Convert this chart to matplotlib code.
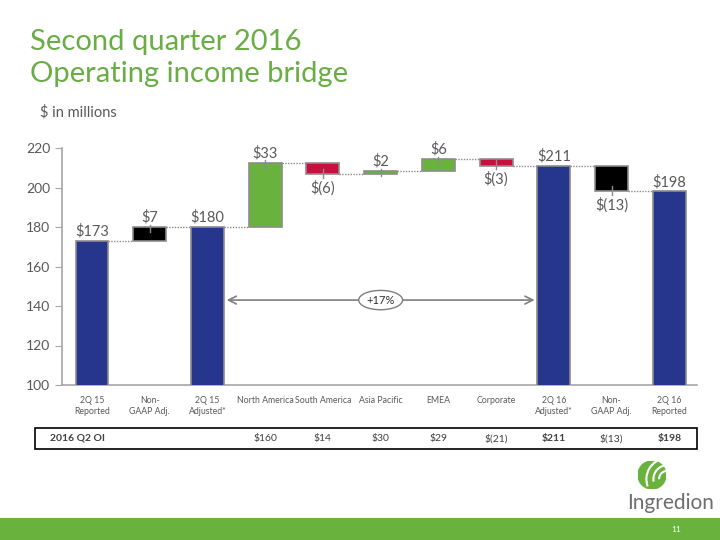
import numpy as np
import matplotlib
matplotlib.use('Agg')
import matplotlib.pyplot as plt
from matplotlib.patches import Rectangle, Circle, Arc

# data
categories = ['2Q 15\nReported', 'Non-\nGAAP Adj.', '2Q 15\nAdjusted*', 'North America',
              'South America', 'Asia Pacific', 'EMEA', 'Corporate', '2Q 16\nAdjusted*',
              'Non-\nGAAP Adj.', '2Q 16\nReported']
# 'total' bars start at 0, 'delta' bars float on the running total
kinds = ['total', 'delta', 'total', 'delta', 'delta', 'delta', 'delta', 'delta', 'total', 'delta', 'total']
values = [173, 7, 180, 32.6, -6.0, 1.6, 6.1, -3.3, 211, -13, 198]
value_labels = ['$173', '$7', '$180', '$33', '$(6)', '$2', '$6', '$(3)', '$211', '$(13)', '$198']
table_values = ['', '', '', '$160', '$14', '$30', '$29', '$(21)', '$211', '$(13)', '$198']
table_bold = [False, False, False, False, False, False, False, False, True, False, True]
growth_label = '+17%'

BLUE = '#26368C'
GREEN = '#6AB23E'
RED = '#C8103E'
GRAY = '#595959'
colors = [BLUE, 'black', BLUE, GREEN, RED, GREEN, GREEN, RED, BLUE, 'black', BLUE]

W, H = 720, 540
fig = plt.figure(figsize=(7.2, 5.4), dpi=100)
plt.rcParams['font.family'] = ['Lato', 'DejaVu Sans']

def fx(x):
    return x / W

def fy(y):
    return 1 - y / H

ax = fig.add_axes([fx(62), fy(385), fx(697) - fx(62), fy(148) - fy(385)])
x = np.arange(len(categories))
width = 0.57

bottoms, tops, ends = [], [], []
running = 0
for k, v in zip(kinds, values):
    if k == 'total':
        b, t = 0, v
        running = v
    else:
        b, t = running, running + v
        running = running + v
    bottoms.append(min(b, t))
    tops.append(max(b, t))
    ends.append(running)

heights = [t - b for b, t in zip(bottoms, tops)]
ax.bar(x, heights, width=width, bottom=bottoms, color=colors, edgecolor='#8C8C8C', linewidth=1.2, zorder=3)

# dotted connectors
for i in range(len(x) - 1):
    ax.plot([x[i] + width / 2, x[i + 1] - width / 2], [ends[i], ends[i]],
            color='#8C8C8C', linestyle=(0, (1, 1)), linewidth=1, zorder=2)

# value labels and little ticks
for i in range(len(x)):
    neg = kinds[i] == 'delta' and values[i] < 0
    if neg:
        ax.text(x[i], bottoms[i] - 3.0, value_labels[i], ha='center', va='top', fontsize=10.5, color=GRAY)
        ax.plot([x[i], x[i]], [bottoms[i] + 3.0, bottoms[i] - 1.8], color='#8C8C8C', lw=1, zorder=4)
    else:
        ax.text(x[i], tops[i] + 1.2, value_labels[i], ha='center', va='bottom', fontsize=10.5, color=GRAY)
        if kinds[i] == 'delta':
            ax.plot([x[i], x[i]], [tops[i] + 1.2, tops[i] - 2.5], color='#8C8C8C', lw=1, zorder=4)

# growth arrow between the adjusted bars
ax.annotate('', xy=(8 - width / 2, 143), xytext=(2 + width / 2, 143),
            arrowprops=dict(arrowstyle='<->', color='#7F7F7F', lw=1.2, mutation_scale=14))
ax.text(5, 143, growth_label, ha='center', va='center', fontsize=8, color='#303030', zorder=5,
        bbox=dict(boxstyle='ellipse,pad=0.12', fc='white', ec='#7F7F7F', lw=1))

ax.set_xlim(-0.52, 10.48)
ax.set_ylim(100, 220)
ax.set_yticks(range(100, 221, 20))
ax.set_xticks(x)
ax.set_xticklabels(categories, fontsize=6.3, color=GRAY, linespacing=1.3)
ax.tick_params(axis='x', length=0, pad=8)
ax.tick_params(axis='y', labelsize=10, colors=GRAY, length=5, color='#A6A6A6')
for s in ['top', 'right']:
    ax.spines[s].set_visible(False)
for s in ['left', 'bottom']:
    ax.spines[s].set_color('#A6A6A6')
    ax.spines[s].set_linewidth(1.2)

# table row under the chart
fig.patches.append(Rectangle((fx(35), fy(449)), fx(697) - fx(35), fy(428) - fy(449),
                             transform=fig.transFigure, fill=False, ec='black', lw=1.2))
fig.text(fx(50), fy(438.5), '2016 Q2 OI', fontsize=7.5, fontweight='bold', color='#404040', va='center')
for i, tv in enumerate(table_values):
    if tv:
        xf = ax.transData.transform((x[i], 0))[0] / W
        fig.text(xf, fy(438.5), tv, fontsize=7.5, ha='center', va='center', color='#404040',
                 fontweight='bold' if table_bold[i] else 'normal')

# titles
fig.text(fx(30), fy(42), 'Second quarter 2016', fontsize=21, color='#6AAD45', va='center')
fig.text(fx(30), fy(74), 'Operating income bridge', fontsize=21, color='#6AAD45', va='center')
fig.text(fx(40), fy(112), '$ in millions', fontsize=10.5, color=GRAY, va='center')

# footer band and logo
fig.patches.append(Rectangle((0, 0), 1, fy(518), transform=fig.transFigure, color='#6AB23E', lw=0))
fig.text(fx(676), fy(530), '11', fontsize=6, color='white', ha='center', va='center')
fig.text(fx(671), fy(503), 'Ingredion', fontsize=15, color='#6E6E6E', ha='center', va='center')
logo = fig.add_axes([fx(638), fy(490), fx(666) - fx(638), fy(460) - fy(490)])
logo.set_xlim(-1, 1)
logo.set_ylim(-1, 1)
logo.set_aspect('equal')
logo.axis('off')
logo.add_patch(Circle((0, 0), 1, color='#6AB23E'))
for r, t1 in [(1.5, 200), (1.0, 190), (0.6, 180)]:
    logo.add_patch(Arc((1.1, -0.3), r * 2, r * 2, theta1=100, theta2=t1, color='white', lw=1.5))

fig.savefig('out.png', dpi=100)
